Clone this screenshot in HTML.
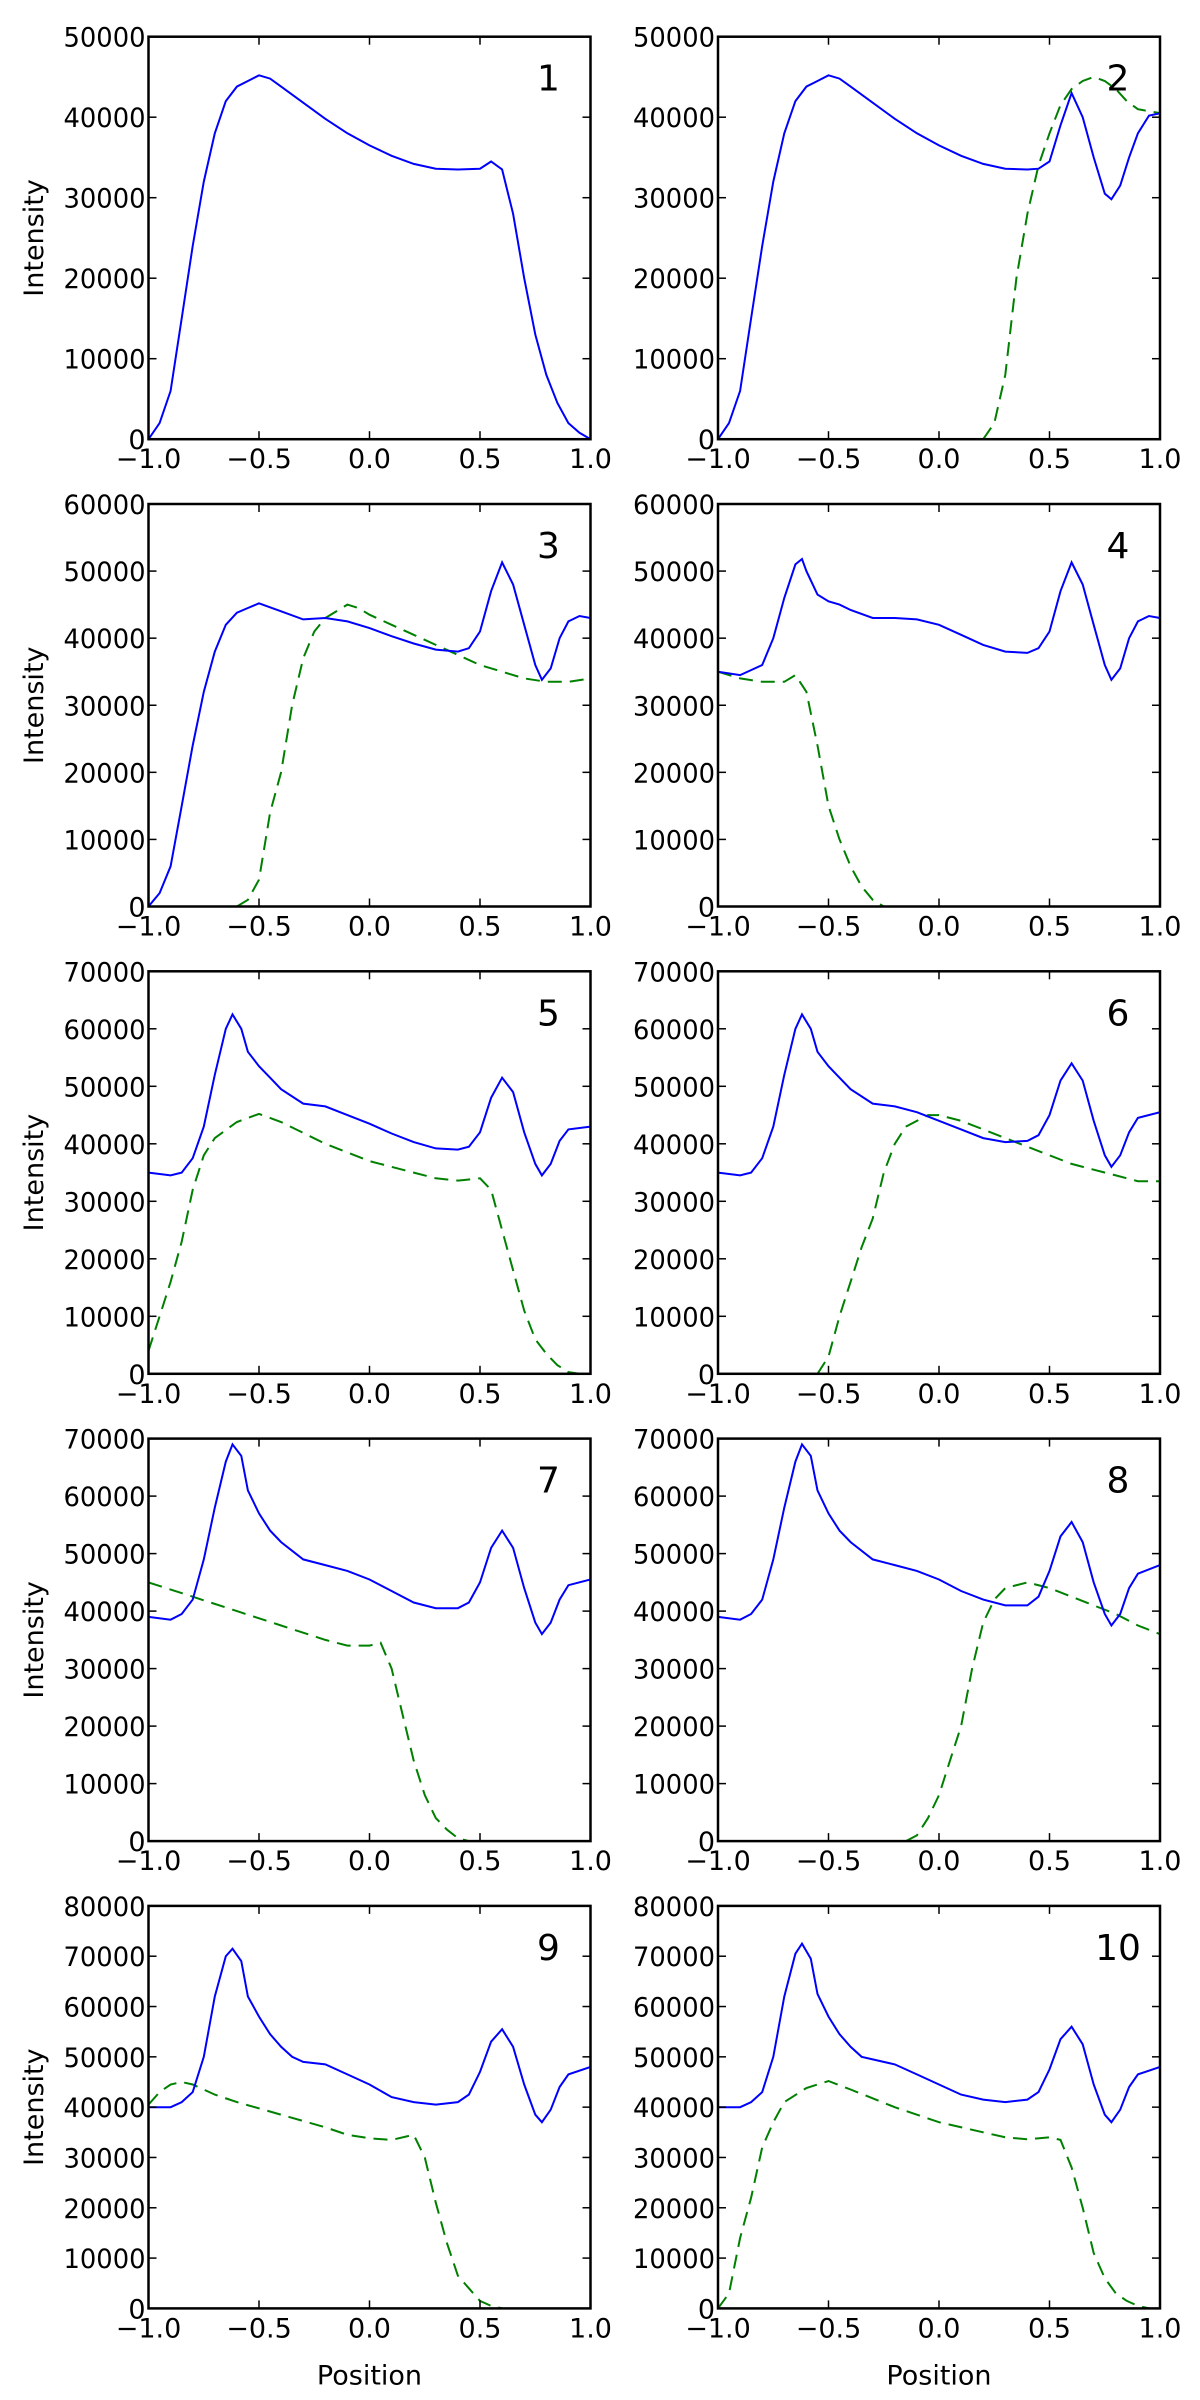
<!DOCTYPE html>
<html><head><meta charset="utf-8"><style>
html,body{margin:0;padding:0;background:#fff}
svg{display:block}
text{font-family:"DejaVu Sans","Liberation Sans",sans-serif;fill:#000}
</style></head>
<body>
<svg id="fig" width="1200" height="2400" viewBox="0 0 1200 2400" xmlns="http://www.w3.org/2000/svg"></svg>
<script>
// y-axis maximum per row (thousands)
const rowMax = [50, 60, 70, 70, 80];
const xTicks = [-1, -0.5, 0, 0.5, 1];
const xTickLabels = ["\u22121.0", "\u22120.5", "0.0", "0.5", "1.0"];
const panelLabels = ["1","2","3","4","5","6","7","8","9","10"];

// Series values: [position, intensity (thousands)]
const blue1 = [[-1,0],[-0.95,2],[-0.9,6],[-0.85,15],[-0.8,24],[-0.75,32],[-0.7,38],[-0.65,42],[-0.6,43.8],[-0.55,44.5],[-0.5,45.2],[-0.45,44.8],[-0.4,43.8],[-0.3,41.8],[-0.2,39.8],[-0.1,38],[0,36.5],[0.1,35.2],[0.2,34.2],[0.3,33.6],[0.4,33.5],[0.5,33.6],[0.55,34.5],[0.6,33.5],[0.65,28],[0.7,20],[0.75,13],[0.8,8],[0.85,4.5],[0.9,2],[0.95,0.8],[1,0]];
const blue2 = [[-1,0],[-0.95,2],[-0.9,6],[-0.85,15],[-0.8,24],[-0.75,32],[-0.7,38],[-0.65,42],[-0.6,43.8],[-0.55,44.5],[-0.5,45.2],[-0.45,44.8],[-0.4,43.8],[-0.3,41.8],[-0.2,39.8],[-0.1,38],[0,36.5],[0.1,35.2],[0.2,34.2],[0.3,33.6],[0.4,33.5],[0.45,33.6],[0.5,34.5],[0.55,39],[0.6,43],[0.65,40],[0.7,35],[0.75,30.5],[0.78,29.8],[0.82,31.5],[0.86,35],[0.9,38],[0.95,40.2],[1,40.5]];
const green2 = [[0.2,0],[0.25,2],[0.3,8],[0.35,20],[0.4,28],[0.45,34],[0.5,38],[0.55,41.5],[0.6,43.5],[0.65,44.5],[0.7,45],[0.75,44.5],[0.8,43.5],[0.85,42],[0.9,41],[1,40.5]];
const blue3 = [[-1,0],[-0.95,2],[-0.9,6],[-0.85,15],[-0.8,24],[-0.75,32],[-0.7,38],[-0.65,42],[-0.6,43.8],[-0.55,44.5],[-0.5,45.2],[-0.4,44],[-0.3,42.8],[-0.2,43],[-0.1,42.5],[0,41.5],[0.1,40.3],[0.2,39.2],[0.3,38.3],[0.4,38],[0.45,38.5],[0.5,41],[0.55,47],[0.6,51.3],[0.65,48],[0.7,42],[0.75,36],[0.78,33.8],[0.82,35.5],[0.86,40],[0.9,42.5],[0.95,43.3],[1,43]];
const green3 = [[-0.6,0],[-0.55,1],[-0.5,4],[-0.45,14],[-0.4,20],[-0.35,30],[-0.3,37],[-0.25,41],[-0.2,43],[-0.1,45],[-0.05,44.5],[0,43.5],[0.1,42],[0.2,40.5],[0.3,39],[0.4,37.5],[0.5,36],[0.6,35],[0.7,34],[0.8,33.5],[0.9,33.5],[1,34]];
const blue4 = [[-1,35],[-0.9,34.5],[-0.8,36],[-0.75,40],[-0.7,46],[-0.65,51],[-0.62,51.8],[-0.6,50],[-0.55,46.5],[-0.5,45.5],[-0.45,45],[-0.4,44.2],[-0.3,43],[-0.2,43],[-0.1,42.8],[0,42],[0.1,40.5],[0.2,39],[0.3,38],[0.4,37.8],[0.45,38.5],[0.5,41],[0.55,47],[0.6,51.3],[0.65,48],[0.7,42],[0.75,36],[0.78,33.8],[0.82,35.5],[0.86,40],[0.9,42.5],[0.95,43.3],[1,43]];
const green4 = [[-1,35],[-0.9,34],[-0.8,33.5],[-0.7,33.5],[-0.65,34.5],[-0.6,32],[-0.55,24],[-0.5,15],[-0.45,10],[-0.4,6],[-0.35,3],[-0.3,1],[-0.25,0]];
const blue5 = [[-1,35],[-0.9,34.5],[-0.85,35],[-0.8,37.5],[-0.75,43],[-0.7,52],[-0.65,60],[-0.62,62.5],[-0.58,60],[-0.55,56],[-0.5,53.5],[-0.45,51.5],[-0.4,49.5],[-0.3,47],[-0.2,46.5],[-0.1,45],[0,43.5],[0.1,41.8],[0.2,40.3],[0.3,39.2],[0.4,39],[0.45,39.5],[0.5,42],[0.55,48],[0.6,51.5],[0.65,49],[0.7,42],[0.75,36.5],[0.78,34.5],[0.82,36.5],[0.86,40.5],[0.9,42.5],[1,43]];
const green5 = [[-1,4],[-0.95,10],[-0.9,16],[-0.85,23],[-0.8,32],[-0.75,38],[-0.7,41],[-0.6,43.8],[-0.5,45.2],[-0.4,43.8],[-0.2,40],[0,37],[0.2,35],[0.3,34],[0.4,33.6],[0.5,34],[0.55,32],[0.6,25],[0.65,18],[0.7,11],[0.75,6],[0.8,3.5],[0.85,1.5],[0.9,0.3],[0.95,0]];
const blue6 = [[-1,35],[-0.9,34.5],[-0.85,35],[-0.8,37.5],[-0.75,43],[-0.7,52],[-0.65,60],[-0.62,62.5],[-0.58,60],[-0.55,56],[-0.5,53.5],[-0.45,51.5],[-0.4,49.5],[-0.3,47],[-0.2,46.5],[-0.1,45.5],[0,44],[0.1,42.5],[0.2,41],[0.3,40.3],[0.4,40.5],[0.45,41.5],[0.5,45],[0.55,51],[0.6,54],[0.65,51],[0.7,44],[0.75,38],[0.78,36],[0.82,38],[0.86,42],[0.9,44.5],[1,45.5]];
const green6 = [[-0.55,0],[-0.5,3],[-0.45,10],[-0.4,16],[-0.35,22],[-0.3,27],[-0.25,35],[-0.2,40],[-0.15,43],[-0.05,45],[0,45],[0.1,44],[0.2,42.5],[0.3,41],[0.4,39.5],[0.5,38],[0.6,36.5],[0.7,35.5],[0.8,34.5],[0.9,33.5],[1,33.5]];
const blue7 = [[-1,39],[-0.9,38.5],[-0.85,39.5],[-0.8,42],[-0.75,49],[-0.7,58],[-0.65,66],[-0.62,69],[-0.58,67],[-0.55,61],[-0.5,57],[-0.45,54],[-0.4,52],[-0.3,49],[-0.2,48],[-0.1,47],[0,45.5],[0.1,43.5],[0.2,41.5],[0.3,40.5],[0.4,40.5],[0.45,41.5],[0.5,45],[0.55,51],[0.6,54],[0.65,51],[0.7,44],[0.75,38],[0.78,36],[0.82,38],[0.86,42],[0.9,44.5],[1,45.5]];
const green7 = [[-1,45],[-0.8,42.5],[-0.6,40],[-0.4,37.5],[-0.2,35],[-0.1,34],[0,34],[0.05,34.5],[0.1,30],[0.15,22],[0.2,14],[0.25,8],[0.3,4],[0.35,2],[0.4,0.5],[0.45,0]];
const blue8 = [[-1,39],[-0.9,38.5],[-0.85,39.5],[-0.8,42],[-0.75,49],[-0.7,58],[-0.65,66],[-0.62,69],[-0.58,67],[-0.55,61],[-0.5,57],[-0.45,54],[-0.4,52],[-0.3,49],[-0.2,48],[-0.1,47],[0,45.5],[0.1,43.5],[0.2,42],[0.3,41],[0.4,41],[0.45,42.5],[0.5,47],[0.55,53],[0.6,55.5],[0.65,52],[0.7,45],[0.75,39.5],[0.78,37.5],[0.82,39.5],[0.86,44],[0.9,46.5],[1,48]];
const green8 = [[-0.15,0],[-0.1,1],[-0.05,4],[0,8],[0.05,14],[0.1,20],[0.15,30],[0.2,38],[0.25,42],[0.3,44],[0.4,45],[0.5,44],[0.6,42.5],[0.7,41],[0.8,39.5],[0.9,37.5],[1,36]];
const blue9 = [[-1,40],[-0.9,40],[-0.85,41],[-0.8,43],[-0.75,50],[-0.7,62],[-0.65,70],[-0.62,71.5],[-0.58,69],[-0.55,62],[-0.5,58],[-0.45,54.5],[-0.4,52],[-0.35,50],[-0.3,49],[-0.2,48.5],[-0.1,46.5],[0,44.5],[0.1,42],[0.2,41],[0.3,40.5],[0.4,41],[0.45,42.5],[0.5,47],[0.55,53],[0.6,55.5],[0.65,52],[0.7,44.5],[0.75,38.5],[0.78,37],[0.82,39.5],[0.86,44],[0.9,46.5],[1,48]];
const green9 = [[-1,40.5],[-0.95,43],[-0.9,44.5],[-0.85,45],[-0.8,44.5],[-0.7,42.5],[-0.6,41],[-0.4,38.5],[-0.2,36],[-0.1,34.5],[0,33.8],[0.1,33.5],[0.2,34.5],[0.25,30],[0.3,21],[0.35,13],[0.4,6.5],[0.45,4],[0.5,1.5],[0.55,0.5],[0.6,0]];
const blue10 = [[-1,40],[-0.9,40],[-0.85,41],[-0.8,43],[-0.75,50],[-0.7,62],[-0.65,70.5],[-0.62,72.5],[-0.58,69.5],[-0.55,62.5],[-0.5,58],[-0.45,54.5],[-0.4,52],[-0.35,50],[-0.3,49.5],[-0.2,48.5],[-0.1,46.5],[0,44.5],[0.1,42.5],[0.2,41.5],[0.3,41],[0.4,41.5],[0.45,43],[0.5,47.5],[0.55,53.5],[0.6,56],[0.65,52.5],[0.7,44.5],[0.75,38.5],[0.78,37],[0.82,39.5],[0.86,44],[0.9,46.5],[1,48]];
const green10 = [[-1,0],[-0.95,3],[-0.9,14],[-0.85,22],[-0.8,32],[-0.75,37],[-0.7,41],[-0.6,43.8],[-0.5,45.2],[-0.4,43.5],[-0.2,40],[0,37],[0.2,35],[0.3,34],[0.4,33.6],[0.5,34],[0.55,33.5],[0.6,28],[0.65,20],[0.7,11],[0.75,6],[0.8,3],[0.85,1.5],[0.9,0.5],[0.95,0]];

const blueSeries = [blue1,blue2,blue3,blue4,blue5,blue6,blue7,blue8,blue9,blue10];
const greenSeries = [null,green2,green3,green4,green5,green6,green7,green8,green9,green10];

const NS = "http://www.w3.org/2000/svg";
const fig = document.getElementById('fig');
const colLeft = [148.5, 718];
const axW = 442, axH = 402.5, row0 = 36.7, rowPitch = 467.3;

function mk(tag, attrs, parent) {
  const e = document.createElementNS(NS, tag);
  for (const k in attrs) e.setAttribute(k, attrs[k]);
  (parent || fig).appendChild(e);
  return e;
}

for (let i = 0; i < 10; i++) {
  const r = Math.floor(i / 2), c = i % 2;
  const L = colLeft[c], T = row0 + r * rowPitch, B = T + axH, R = L + axW;
  const ymax = rowMax[r];
  const sx = v => L + (v + 1) / 2 * axW;
  const sy = v => B - v / ymax * axH;

  const g = mk('g', {});
  
  

  const clipId = 'clip' + i;
  const cp = mk('clipPath', {id: clipId}, g);
  mk('rect', {x: L, y: T, width: axW, height: axH}, cp);

  // series
  const toPath = arr => arr.map((p, k) => (k ? 'L' : 'M') + sx(p[0]).toFixed(1) + ' ' + sy(p[1]).toFixed(1)).join(' ');
  if (greenSeries[i]) {
    const gp = mk('path', {d: toPath(greenSeries[i]), fill: 'none', stroke: '#008000', 'stroke-width': 2, 'stroke-dasharray': '14 8', 'clip-path': 'url(#' + clipId + ')'}, g);
    
    
  }
  const bp = mk('path', {d: toPath(blueSeries[i]), fill: 'none', stroke: '#0000ff', 'stroke-width': 2, 'clip-path': 'url(#' + clipId + ')'}, g);
  
  

  // frame
  const fr = mk('rect', {x: L, y: T, width: axW, height: axH, fill: 'none', stroke: '#000', 'stroke-width': 2.5}, g);
  
  

  // x ticks
  xTicks.forEach((v, k) => {
    const x = sx(v);
    mk('line', {x1: x, y1: B, x2: x, y2: B - 8, stroke: '#000', 'stroke-width': 1.5}, g);
    mk('line', {x1: x, y1: T, x2: x, y2: T + 8, stroke: '#000', 'stroke-width': 1.5}, g);
    const t = mk('text', {x: x, y: B + 29, 'text-anchor': 'middle', 'font-size': 27}, g);
    t.textContent = xTickLabels[k];
    
    
  });
  // y ticks
  for (let v = 0; v <= ymax; v += 10) {
    const y = sy(v);
    mk('line', {x1: L, y1: y, x2: L + 8, y2: y, stroke: '#000', 'stroke-width': 1.5}, g);
    mk('line', {x1: R, y1: y, x2: R - 8, y2: y, stroke: '#000', 'stroke-width': 1.5}, g);
    const lab = v === 0 ? '0' : String(v * 1000);
    const t = mk('text', {x: L - 3, y: y + 10, 'text-anchor': 'end', 'font-size': 27}, g);
    if (v !== 0) { t.setAttribute('textLength', 82); t.setAttribute('lengthAdjust', 'spacingAndGlyphs'); }
    t.textContent = lab;
    
    
  }
  // panel number
  const pn = mk('text', {x: L + 400, y: T + 54, 'text-anchor': 'middle', 'font-size': 36}, g);
  pn.textContent = panelLabels[i];
  
  

  if (c === 0) {
    const cy = T + axH / 2;
    const yl = mk('text', {x: 0, y: 0, 'text-anchor': 'middle', 'font-size': 27, transform: 'translate(43,' + cy + ') rotate(-90)'}, g);
    yl.textContent = 'Intensity';
    
    
  }
  if (r === 4) {
    const xl = mk('text', {x: L + axW / 2, y: B + 76, 'text-anchor': 'middle', 'font-size': 27}, g);
    xl.textContent = 'Position';
    
    
  }
}
</script>
</body></html>
